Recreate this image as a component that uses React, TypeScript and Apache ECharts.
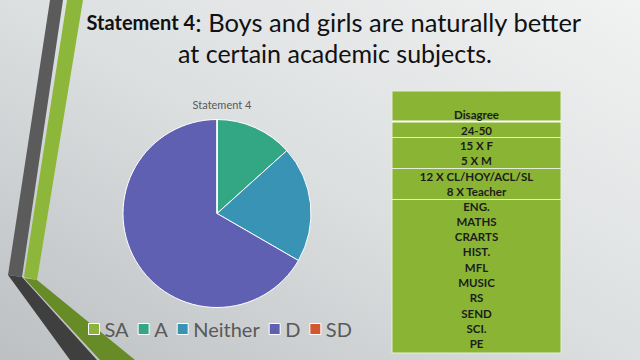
import React, { useEffect, useRef } from "react";
import * as echarts from "echarts";

const categories = ["SA", "A", "Neither", "D", "SD"];
const values = [0, 4, 6, 20, 0];
const colors = ["#8cb43a", "#33a784", "#3893b5", "#6060b2", "#d4562f"];
const titleBold = "Statement 4";
const titleLine1 = ": Boys and girls are naturally better";
const titleLine2 = "at certain academic subjects.";
const chartTitle = "Statement 4";
const tableHeader = "Disagree";
const tableGroups = [
  ["24-50"],
  ["15 X F", "5 X M"],
  ["12 X CL/HOY/ACL/SL", "8 X Teacher"],
  ["ENG.", "MATHS", "CRARTS", "HIST.", "MFL", "MUSIC", "RS", "SEND", "SCI.", "PE"],
];

export default function App() {
  const ref = useRef<HTMLDivElement>(null);
  useEffect(() => {
    const chart = echarts.init(ref.current!, null, { renderer: "svg" });
    const font = "Lato, 'Open Sans', sans-serif";
    const tx = 476.5;
    const lineH = 15.3;
    const graphics: any[] = [
      // decorative bands
      { type: "polygon", shape: { points: [[50, 0], [63, 0], [22, 277], [8, 275]] }, style: { fill: "#5b5b5b" } },
      { type: "polygon", shape: { points: [[67, 0], [83, 0], [37, 280], [24, 277]] }, style: { fill: "#8db73a" } },
      { type: "polygon", shape: { points: [[8, 275], [22, 277], [97, 360], [70, 360]] }, style: { fill: "#3f3f3f" } },
      { type: "polygon", shape: { points: [[24, 278], [37, 280], [135, 360], [100, 360]] }, style: { fill: "#668b27" } },
      // title
      {
        type: "text",
        x: 334,
        y: 22,
        style: {
          text: "{b|" + titleBold + "}{r|" + titleLine1 + "}",
          align: "center",
          verticalAlign: "middle",
          rich: {
            b: { fontFamily: font, fontWeight: "bold", fontSize: 20, fill: "#111" },
            r: { fontFamily: font, fontSize: 25.5, fill: "#111" },
          },
        },
      },
      {
        type: "text",
        x: 335,
        y: 53,
        style: { text: titleLine2, align: "center", verticalAlign: "middle", fontFamily: font, fontSize: 25, fill: "#111" },
      },
      // table
      { type: "rect", shape: { x: 392, y: 91, width: 169, height: 262 }, style: { fill: "#8ab433", stroke: "#e8eedc", lineWidth: 1 } },
      { type: "line", shape: { x1: 392, y1: 121.5, x2: 561, y2: 121.5 }, style: { stroke: "#ffffff", lineWidth: 2 } },
      { type: "line", shape: { x1: 392, y1: 137.5, x2: 561, y2: 137.5 }, style: { stroke: "#e6edd6", lineWidth: 1 } },
      { type: "line", shape: { x1: 392, y1: 168.5, x2: 561, y2: 168.5 }, style: { stroke: "#e6edd6", lineWidth: 1 } },
      { type: "line", shape: { x1: 392, y1: 199.5, x2: 561, y2: 199.5 }, style: { stroke: "#e6edd6", lineWidth: 1 } },
      {
        type: "text",
        x: tx,
        y: 114,
        style: { text: tableHeader, align: "center", verticalAlign: "middle", fontFamily: font, fontWeight: "bold", fontSize: 11.5, fill: "#1c1c1c" },
      },
    ];
    const groupStarts = [130.5, 145, 176, 206];
    tableGroups.forEach((g, gi) => {
      g.forEach((t, i) => {
        graphics.push({
          type: "text",
          x: tx,
          y: groupStarts[gi] + i * lineH,
          style: { text: t, align: "center", verticalAlign: "middle", fontFamily: font, fontWeight: "bold", fontSize: 11.5, fill: "#1c1c1c" },
        });
      });
    });

    chart.setOption({
      animation: false,
      backgroundColor: {
        type: "linear",
        x: 1,
        y: 0,
        x2: 0,
        y2: 1,
        colorStops: [
          { offset: 0, color: "#f1f2f2" },
          { offset: 0.5, color: "#dcdfe0" },
          { offset: 1, color: "#bcc0c2" },
        ],
      },
      title: {
        text: chartTitle,
        left: 217,
        top: 94,
        textAlign: "center",
        textStyle: { fontFamily: font, fontSize: 11, fontWeight: "normal", color: "#595959" },
      },
      legend: {
        left: 88,
        top: 319,
        padding: 0,
        icon: "rect",
        itemWidth: 11,
        itemHeight: 11,
        itemGap: 9,
        textStyle: { fontFamily: font, fontSize: 20, color: "#595959" },
        itemStyle: { borderColor: "#ffffff", borderWidth: 1 },
        data: categories,
      },
      color: colors,
      graphic: graphics,
      series: [
        {
          type: "pie",
          center: [217, 213.5],
          radius: 94,
          startAngle: 90,
          clockwise: true,
          label: { show: false },
          labelLine: { show: false },
          emphasis: { disabled: true },
          itemStyle: { borderColor: "#ffffff", borderWidth: 1 },
          data: categories.map((c, i) => ({ name: c, value: values[i] })),
        },
      ],
    });
    return () => chart.dispose();
  }, []);
  return <div ref={ref} style={{ position: "fixed", left: 0, top: 0, width: 640, height: 360 }} />;
}
